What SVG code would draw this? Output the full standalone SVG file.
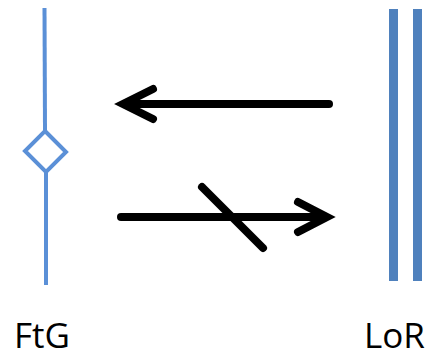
<svg xmlns="http://www.w3.org/2000/svg" width="437" height="357" viewBox="0 0 437 357">
<style>
.lbl{font-family:"Open Sans","Liberation Sans",sans-serif;font-size:35px;fill:#000}
.arr{stroke:#000;stroke-width:8;fill:none;stroke-linecap:round;stroke-linejoin:miter}
.ftg{stroke:#5b90d7;stroke-width:4;fill:none}
.lor{stroke:#4f81bd;stroke-width:9;fill:none}
</style>
<rect width="437" height="357" fill="#fff"/>
<g id="FtG">
<line class="ftg" x1="44.5" y1="8" x2="45" y2="130"/>
<path class="ftg" d="M45 131 L66 152 L46 172 L25 151 Z"/>
<line class="ftg" x1="46" y1="172" x2="46" y2="285"/>
<text class="lbl" x="14" y="348">FtG</text>
</g>
<g id="LoR">
<line class="lor" x1="393.5" y1="9" x2="393.5" y2="281"/>
<line class="lor" x1="417.5" y1="9" x2="417.5" y2="281"/>
<text class="lbl" x="364" y="348">LoR</text>
</g>
<g id="connectors">
<line class="arr" x1="125" y1="104" x2="329" y2="104" stroke-linecap="butt"/>
<path class="arr" d="M153 89 L123 104 L153 119"/>
<line class="arr" x1="121" y1="217" x2="325" y2="217" stroke-linecap="butt"/>
<path class="arr" d="M298 202 L327 217 L298 232"/>
<line class="arr" x1="202" y1="187" x2="263" y2="248" stroke-linecap="butt"/>
</g>
</svg>
